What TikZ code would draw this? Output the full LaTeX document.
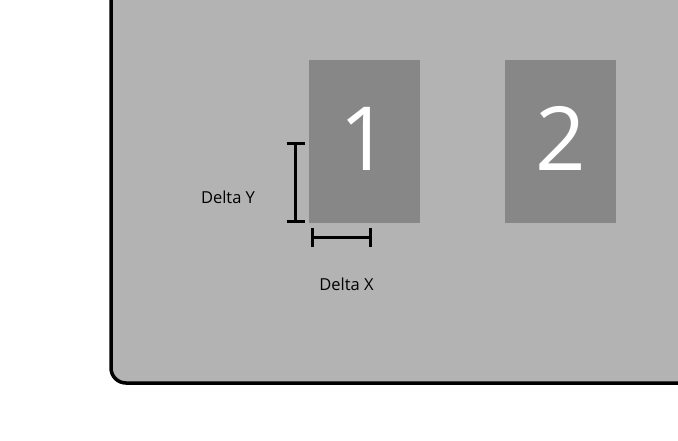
\documentclass[tikz,border=0pt]{standalone}
\usepackage{fontspec}
\setmainfont{Open Sans}
\definecolor{panel}{HTML}{B3B3B3}
\definecolor{card}{HTML}{878787}
\tikzset{
  cardbox/.style={fill=card, draw=none, minimum width=111pt, minimum height=163pt, inner sep=0pt},
  num/.style={text=white, font=\fontsize{88.5}{90}\selectfont, inner sep=0pt},
  dim/.style={line width=3pt, draw=black},
  lbl/.style={font=\fontsize{16.5}{19}\selectfont, inner sep=0pt, anchor=base}
}
\begin{document}
\begin{tikzpicture}[x=1pt,y=-1pt]
\useasboundingbox (0,0) rectangle (678,441);
\fill[white] (0,0) rectangle (678,441);
\draw[line width=3.5pt, fill=panel, rounded corners=15pt] (111,-30) -- (111,383) -- (700,383) -- (700,-30) -- cycle;
\node[cardbox] (c1) at (364.5,141.5) {};
\node[cardbox] (c2) at (560.5,141.5) {};
\node[num] (n1) at ([yshift=3pt]c1) {1};
\node[num] (n2) at ([yshift=3pt]c2) {2};
% Delta Y
\coordinate (yt) at (295.5,144);
\coordinate (yb) at (295.5,221.5);
\draw[dim] (yt) -- (yb);
\draw[dim] ([xshift=-9pt]yt) -- ([xshift=9pt]yt);
\draw[dim] ([xshift=-9pt]yb) -- ([xshift=9pt]yb);
\node[lbl] (dy) at (228,203.5) {Delta Y};
% Delta X
\coordinate (xl) at (312,237.5);
\coordinate (xr) at (370,237.5);
\draw[dim] (xl) -- (xr);
\draw[dim] ([yshift=-9pt]xl) -- ([yshift=9pt]xl);
\draw[dim] ([yshift=-9pt]xr) -- ([yshift=9pt]xr);
\node[lbl] (dx) at (346.5,290.5) {Delta X};
\end{tikzpicture}
\end{document}
